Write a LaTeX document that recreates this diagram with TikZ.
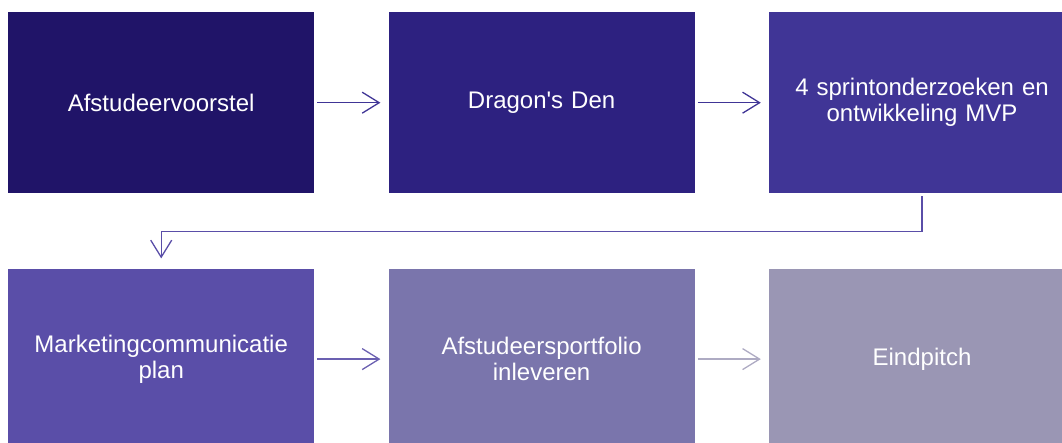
\documentclass[tikz,border=0pt]{standalone}
\usepackage{fontspec}
\setmainfont{Liberation Sans}[Ligatures=TeXOff]
\usepackage{xcolor}
\usepackage{tikz}
\usetikzlibrary{arrows.meta,positioning}

\definecolor{stepA}{HTML}{201468}
\definecolor{stepB}{HTML}{2D2180}
\definecolor{stepC}{HTML}{403596}
\definecolor{stepD}{HTML}{5A4EA8}
\definecolor{stepE}{HTML}{7A75AC}
\definecolor{stepF}{HTML}{9A96B4}

\begin{document}
\begin{tikzpicture}
		[phase/.style={rectangle,minimum width=306pt,minimum height=181pt,inner sep=0pt,
			text width=290pt,align=center,text=white,font=\fontsize{24}{26}\selectfont},
		flow/.style={line width=1.3pt,-{Straight Barb[length=17pt,width=21pt,line width=1.3pt]}},
		node distance=75pt and 74pt]
		\clip (0,0) rectangle (1062pt,-443pt);
		\node[phase,fill=stepA,anchor=north west] (voorstel) at (8pt,-12pt) {Afstudeervoorstel};
		\node[phase,fill=stepB,right=of voorstel] (den) {Dragon's Den};
		\node[phase,fill=stepC,right=of den] (sprint) {4 sprintonderzoeken en\\ontwikkeling MVP};
		\node[phase,fill=stepD,below=of voorstel] (plan) {Marketingcommunicatie\\plan};
		\node[phase,fill=stepE,right=of plan] (portfolio) {Afstudeersportfolio\\inleveren};
		\node[phase,fill=stepF,right=of portfolio] (pitch) {Eindpitch};
		% connectors
		\draw[flow,color=stepC] ([xshift=3pt]voorstel.east) -- ([xshift=-8pt]den.west);
		\draw[flow,color=stepC] ([xshift=3pt]den.east) -- ([xshift=-8pt]sprint.west);
		\draw[flow,color=stepD] ([yshift=-3pt]sprint.south) -- ++(0,-35pt) -| ([yshift=10pt]plan.north);
		\draw[flow,color=stepD!90] ([xshift=3pt]plan.east) -- ([xshift=-8pt]portfolio.west);
		\draw[flow,color=stepF!80] ([xshift=3pt]portfolio.east) -- ([xshift=-8pt]pitch.west);
\end{tikzpicture}
\end{document}
